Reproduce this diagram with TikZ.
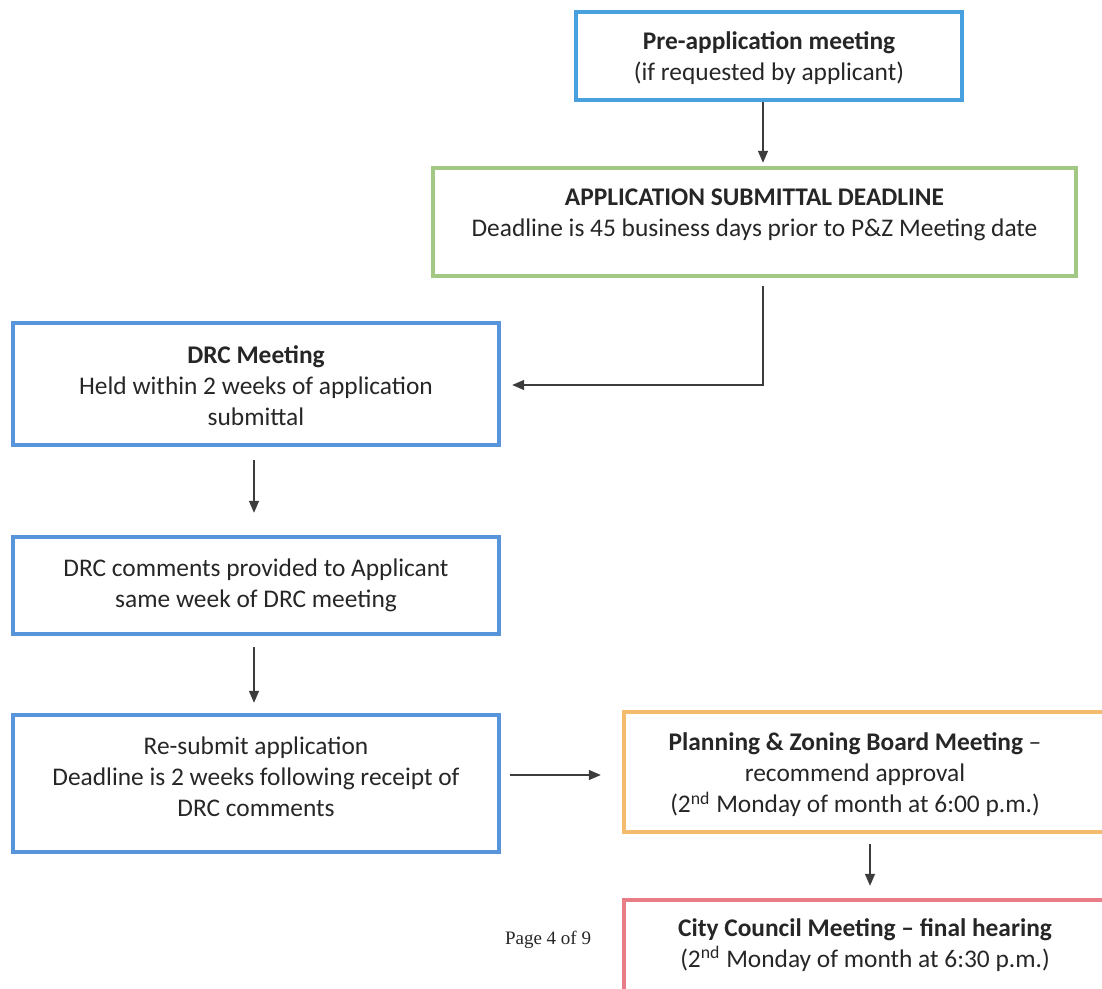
\documentclass[tikz,border=0pt]{standalone}
\usepackage{fontspec}
\setmainfont{Carlito}
\newfontfamily\pagefont{Liberation Serif}
\usetikzlibrary{arrows.meta}
\definecolor{preblue}{RGB}{72,160,222}
\definecolor{drcblue}{RGB}{88,148,218}
\definecolor{appgreen}{RGB}{162,200,132}
\definecolor{pzorange}{RGB}{244,188,110}
\definecolor{ccred}{RGB}{232,125,135}
\definecolor{ink}{RGB}{38,38,38}
\definecolor{arrowink}{RGB}{60,60,60}
\tikzset{
  box/.style={draw=#1, line width=2.2pt, rectangle, inner sep=0pt},
  txt/.style={align=center, text=ink, font=\fontsize{12.7}{15.5}\selectfont},
  arr/.style={draw=arrowink, line width=0.7pt, -{Triangle[length=6pt,width=5pt]}}
}
\begin{document}
\begin{tikzpicture}[x=0.5pt,y=-0.5pt]
\useasboundingbox (0,0) rectangle (1102,989);
\clip (0,0) rectangle (1102,989);
% boxes
\node[box=preblue, minimum width=193pt, minimum height=44pt] (pre) at (769,56) {};
\node[box=appgreen, minimum width=321.5pt, minimum height=54pt] (app) at (754.5,222) {};
\node[box=drcblue, minimum width=243pt, minimum height=61pt] (drc) at (256,384) {};
\node[box=drcblue, minimum width=243pt, minimum height=48.5pt] (com) at (256,585.5) {};
\node[box=drcblue, minimum width=243pt, minimum height=68.5pt] (res) at (256,783.5) {};
\node[box=pzorange, minimum width=270pt, minimum height=60pt] (pz) at (894,772) {};
\node[box=ccred, minimum width=270pt, minimum height=60pt] (cc) at (894,960) {};
% texts
\node[txt] (tpre) at (769,58) {\textbf{Pre-application meeting}\\(if requested by applicant)};
\node[txt] (tapp) at (754.5,215) {\textbf{APPLICATION SUBMITTAL DEADLINE}\\Deadline is 45 business days prior to P\&Z Meeting date};
\node[txt] (tdrc) at (256,386) {\textbf{DRC Meeting}\\Held within 2 weeks of application\\submittal};
\node[txt] (tcom) at (256,585) {DRC comments provided to Applicant\\same week of DRC meeting};
\node[txt] (tres) at (256,777) {Re-submit application\\Deadline is 2 weeks following receipt of\\DRC comments};
\node[txt] (tpz) at (855,775) {\textbf{Planning \& Zoning Board Meeting} --\\recommend approval\\(2\textsuperscript{nd} Monday of month at 6:00 p.m.)};
\node[txt] (tcc) at (865,945) {\textbf{City Council Meeting -- final hearing}\\(2\textsuperscript{nd} Monday of month at 6:30 p.m.)};
\node[text=ink, font=\pagefont\fontsize{9.5}{11}\selectfont] (page) at (548,940) {Page 4 of 9};
% connectors
\coordinate (xa) at (763,0);
\coordinate (xd) at (254,0);
\coordinate (ya) at (0,385);
\coordinate (yr) at (0,775);
\coordinate (xp) at (870,0);
\draw[arr, shorten >=1.5pt] (pre.south -| xa) -- (app.north -| xa);
\draw[arr, shorten <=4pt, shorten >=5.5pt] (app.south -| xa) |- (drc.east |- ya);
\draw[arr, shorten <=6.5pt, shorten >=11pt] (drc.south -| xd) -- (com.north -| xd);
\draw[arr, shorten <=5.5pt, shorten >=5pt] (com.south -| xd) -- (res.north -| xd);
\draw[arr, shorten <=4.5pt, shorten >=10.5pt] (res.east |- yr) -- (pz.west |- yr);
\draw[arr, shorten <=5pt, shorten >=6pt] (pz.south -| xp) -- (cc.north -| xp);
\end{tikzpicture}
\end{document}
